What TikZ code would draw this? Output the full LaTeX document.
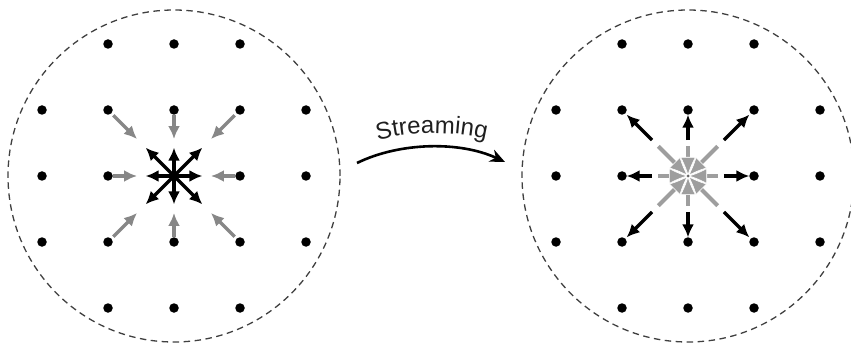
\documentclass[tikz,border=0pt]{standalone}
\usepackage{fontspec}
\setsansfont{Liberation Sans}
\usetikzlibrary{arrows.meta,decorations.text,calc}
\begin{document}
\begin{tikzpicture}[x=1pt,y=1pt,
  dot/.style={circle,fill=black,inner sep=0pt,minimum size=9.5pt},
  ring/.style={draw=black!75,dash pattern=on 6.5pt off 4.5pt,line width=1.3pt},
  inarrow/.style={draw=black!47,line width=3.4pt,-{Latex[length=13pt,width=12pt]}},
  outarrow/.style={draw=black,line width=3.3pt,-{Latex[length=13pt,width=12pt]}},
  convarrow/.style={draw=black!38,line width=4pt,-{Latex[length=19pt,width=16pt,fill=black!38,color=white,line width=0.6pt]}},
  flowarrow/.style={draw=black,line width=2.6pt,-{Stealth[length=15pt,width=13pt]}}]
\useasboundingbox (0,0) rectangle (851,343);
% centres
\coordinate (Lc) at (174,167);
\coordinate (Rc) at (688,167);
% rings
\node[ring,circle,minimum size=332pt,inner sep=0pt] (Lring) at (Lc) {};
\node[ring,circle,minimum size=332pt,inner sep=0pt] (Rring) at (Rc) {};
% dots
\foreach \i in {-2,...,2}{
  \foreach \j in {-2,...,2}{
    \pgfmathtruncatemacro\ai{abs(\i)}
    \pgfmathtruncatemacro\aj{abs(\j)}
    \pgfmathtruncatemacro\corner{(\ai==2)&&(\aj==2)}
    \pgfmathtruncatemacro\mid{(\ai==0)&&(\aj==0)}
    \ifnum\corner=0 \ifnum\mid=0
      \node[dot] (L\i\j) at ($(Lc)+(\i*66,\j*66)$) {};
      \node[dot] (R\i\j) at ($(Rc)+(\i*66,\j*66)$) {};
    \fi\fi
  }
}
% left: incoming grey, outgoing black
\foreach \dx/\dy in {1/0,1/1,0/1,-1/1,-1/0,-1/-1,0/-1,1/-1}{
  \draw[inarrow] ($(Lc)!0.92!(L\dx\dy)$) -- ($(Lc)!0.56!(L\dx\dy)$);
}
\foreach \dx/\dy in {1/0,1/1,0/1,-1/1,-1/0,-1/-1,0/-1,1/-1}{
  \draw[outarrow] (Lc) -- ($(Lc)!0.43!(L\dx\dy)$);
}
% right: converging grey, outgoing black
\foreach \dx/\dy in {1/0,1/1,0/1,-1/1,-1/0,-1/-1,0/-1,1/-1}{
  \draw[convarrow] ($(Rc)!0.45!(R\dx\dy)$) -- (Rc);
}
\node[circle,fill=black!60,inner sep=0pt,minimum size=3pt] (Rdot) at (Rc) {};
\foreach \dx/\dy in {1/0,1/1,0/1,-1/1,-1/0,-1/-1,0/-1,1/-1}{
  \draw[outarrow] ($(Rc)!0.545!(R\dx\dy)$) -- ($(Rc)!0.93!(R\dx\dy)$);
}
% streaming arrow
\coordinate (s0) at (357,180);
\coordinate (s1) at (505,181);
\draw[flowarrow] (s0) .. controls (400,201) and (460,202) .. (s1);
\coordinate (t0) at (366,199);
\coordinate (t1) at (498,201);
\path[decoration={text along path,text align=center,
  text={|\sffamily\fontsize{24}{24}\selectfont\color{black!88}|Streaming}},decorate]
  (t0) .. controls (405,213) and (460,213) .. (t1);
\end{tikzpicture}
\end{document}
